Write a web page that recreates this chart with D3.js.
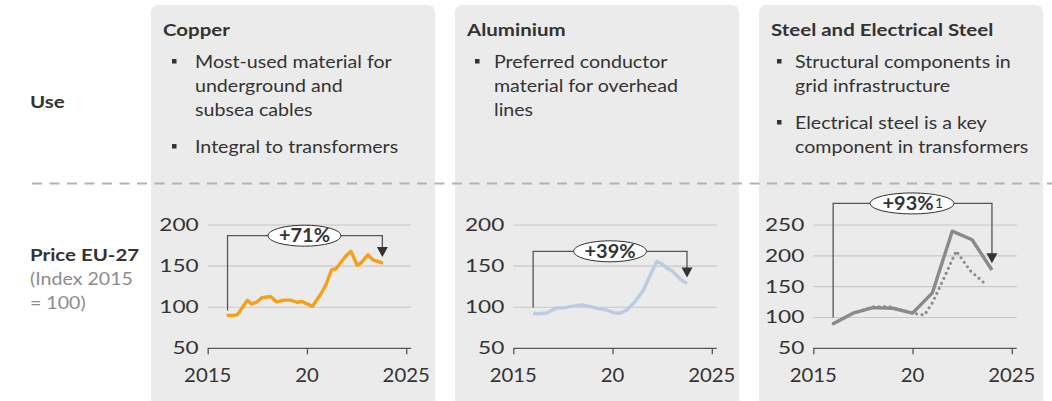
<!DOCTYPE html>
<html>
<head>
<meta charset="utf-8">
<script src="https://cdn.jsdelivr.net/npm/d3@7"></script>
<style>
  body { margin: 0; background: #fff; }
  svg { display: block; font-family: Lato, 'Open Sans', sans-serif; }
</style>
</head>
<body>
<script>
// ---- data ----
let materials = ['Copper', 'Aluminium', 'Steel and Electrical Steel']
let bullets = [
  [['Most-used material for', 'underground and', 'subsea cables'], ['Integral to transformers']],
  [['Preferred conductor', 'material for overhead', 'lines']],
  [['Structural components in', 'grid infrastructure'], ['Electrical steel is a key', 'component in transformers']]
]
let rowLabels = ['Use', 'Price EU-27']
let priceNote = ['(Index 2015', '= 100)']

let xTicks = [2015, 2020, 2025]
let xTickLabels = ['2015', '20', '2025']
let yTicksCopper = [50, 100, 150, 200]
let yTicksAlu = [50, 100, 150, 200]
let yTicksSteel = [50, 100, 150, 200, 250]

let copperYears = [2015.96, 2016.3, 2016.5, 2017.0, 2017.2, 2017.45, 2017.74, 2018.16, 2018.47,
  2018.84, 2019.18, 2019.48, 2019.77, 2020.0, 2020.28, 2020.7, 2020.95, 2021.24, 2021.46,
  2021.97, 2022.22, 2022.53, 2022.73, 2023.07, 2023.32, 2023.83]
let copperValues = [90, 90, 91, 108.5, 104, 106, 111.7, 113, 106.5,
  108.6, 108.6, 106, 107, 104, 101, 116, 127, 145.5, 146.8,
  162.5, 168, 151, 154, 163.8, 157.7, 153.7]

let aluYears = [2016.0, 2016.26, 2016.68, 2017.18, 2017.6, 2017.95, 2018.45, 2018.87, 2019.3,
  2019.7, 2020.05, 2020.38, 2020.72, 2021.14, 2021.56, 2021.9, 2022.23, 2022.48, 2022.74,
  2022.99, 2023.41, 2023.75]
let aluValues = [92.7, 92, 93, 99, 99.5, 101, 102.8, 100.7, 98.2,
  96.6, 93.4, 92.7, 96.6, 106.8, 121, 139, 155.6, 152.8, 147.5,
  144.6, 134, 129]

let steelYears = [2016, 2017, 2018, 2019, 2020, 2021, 2022, 2023, 2024]
let steelValues = [90, 107, 116, 115, 107, 140, 240, 226, 177]

let elSteelYears = [2016, 2017, 2018, 2018.8, 2020, 2020.6, 2021.0, 2021.6, 2022.2, 2022.9, 2023.75]
let elSteelValues = [90, 107, 117, 118, 107, 104, 124, 165, 208, 176, 152]

let changeLabels = ['+71%', '+39%', '+93%']
let changeNotes = ['', '', '1']
// bracket: [startYear, startValue, topValue, endYear, arrowValue]
let brackets = [
  [2016, 96, 187, 2023.8, 161],
  [2016, 99.5, 168, 2023.75, 136],
  [2016, 100, 285, 2024, 188]
]

// ---- layout ----
let W = 1052, H = 401
let panel = {x0: 151, step: 304, width: 284, top: 5, radius: 8}
let textLeft = [44, 39, 36]
let bulletLeft = [21, 20, 18]
let plotLeft = [56.7, 58.3, 54.3]
let plot = {width: 198.5, top: 225, bottom: 348.3, extra: 5}
let ink = '#333'
let type = {
  body: {size: 18, sx: 1.09},
  head: {size: 17.5, sx: 1.17},
  yTick: {size: 17, sx: 1.33},
  xTick: {size: 18.5, sx: 1.1},
  badge: {size: 18.5, sx: 1.08}
}

let svg = d3.select('body').append('svg')
  .attr('width', W).attr('height', H)

function addText (parent, x, y, str, opts = {}) {
  let style = type[opts.kind || 'body']
  let t = parent.append('text')
    .attr('transform', `translate(${x},${y}) scale(${opts.sx || style.sx},1)`)
    .attr('font-size', opts.size || style.size)
    .attr('font-weight', opts.weight || 400)
    .attr('fill', opts.fill || ink)
    .attr('text-anchor', opts.anchor || 'start')
    .text(str)
  return t
}

// panels
materials.forEach((m, i) => {
  let x = panel.x0 + i * panel.step
  svg.append('path')
    .attr('d', `M${x},${H + 10} V${panel.top + panel.radius} Q${x},${panel.top} ${x + panel.radius},${panel.top}` +
      ` H${x + panel.width - panel.radius} Q${x + panel.width},${panel.top} ${x + panel.width},${panel.top + panel.radius} V${H + 10} Z`)
    .attr('fill', '#ebebeb')
})

// left column labels
addText(svg, 30, 108, rowLabels[0], {kind: 'head', weight: 700})
addText(svg, 30, 261, rowLabels[1], {kind: 'head', weight: 700})
priceNote.forEach((s, i) => addText(svg, 30, 285 + i * 24, s, {kind: 'head', fill: '#8c8c8c', sx: 1.12}))

// separator
svg.append('line')
  .attr('x1', 32).attr('x2', W).attr('y1', 183.5).attr('y2', 183.5)
  .attr('stroke', '#b3b3b3').attr('stroke-width', 2)
  .attr('stroke-dasharray', '10 7.5')

// use texts
materials.forEach((m, i) => {
  let x = panel.x0 + i * panel.step
  let g = svg.append('g')
  addText(g, x + 12, 36, m, {kind: 'head', weight: 700})
  let y = 68
  bullets[i].forEach(par => {
    g.append('rect').attr('x', x + bulletLeft[i]).attr('y', y - 9).attr('width', 4.5).attr('height', 4.5).attr('fill', ink)
    par.forEach(line => {
      addText(g, x + textLeft[i], y, line)
      y += 24
    })
    y += 13
  })
})

// charts
let series = [
  [{years: copperYears, values: copperValues, color: '#f6a01a', dotted: false}],
  [{years: aluYears, values: aluValues, color: '#bccbe2', dotted: false}],
  [{years: steelYears, values: steelValues, color: '#8a8a8a', dotted: false},
    {years: elSteelYears, values: elSteelValues, color: '#8a8a8a', dotted: true}]
]
let yTicksAll = [yTicksCopper, yTicksAlu, yTicksSteel]

series.forEach((list, i) => {
  let px = panel.x0 + i * panel.step + plotLeft[i]
  let yTicks = yTicksAll[i]
  let x = d3.scaleLinear().domain([2015, 2025]).range([px, px + plot.width])
  let y = d3.scaleLinear().domain([yTicks[0], yTicks[yTicks.length - 1]]).range([plot.bottom, plot.top])
  let g = svg.append('g')

  // gridlines
  g.selectAll('line.grid').data(yTicks.slice(1)).enter().append('line')
    .attr('x1', x(2015)).attr('x2', x(2025) + plot.extra)
    .attr('y1', d => y(d)).attr('y2', d => y(d))
    .attr('stroke', '#c8c8c8').attr('stroke-width', 1.1)

  // y labels
  yTicks.forEach(v => addText(g, x(2015) - 9, y(v) + 6, v, {kind: 'yTick', anchor: 'end'}))

  // x axis
  let axis = d3.axisBottom(x).tickValues(xTicks).tickSize(6).tickFormat('')
  let ax = g.append('g').attr('transform', `translate(0,${plot.bottom})`).call(axis)
  ax.select('.domain').attr('d', `M${x(2015)},0H${x(2025) + plot.extra}`).attr('stroke', '#555').attr('stroke-width', 1.3)
  ax.selectAll('.tick line').attr('stroke', '#555').attr('stroke-width', 1.3)
  xTicks.forEach((t, k) => addText(g, x(t), 382, xTickLabels[k], {kind: 'xTick', anchor: 'middle'}))

  // lines
  let line = d3.line().x(d => x(d[0])).y(d => y(d[1]))
  list.forEach(s => {
    let pts = s.years.map((yr, k) => [yr, s.values[k]])
    let p = g.append('path').datum(pts)
      .attr('d', line)
      .attr('fill', 'none')
      .attr('stroke', s.color)
      .attr('stroke-width', 3.4)
      .attr('stroke-linejoin', 'round')
    if (s.dotted) {
      p.attr('stroke-dasharray', '0 5.5').attr('stroke-linecap', 'round').attr('stroke-width', 3.2)
    }
  })

  // bracket annotation
  let [y0, v0, vTop, y1, vArrow] = brackets[i]
  let tipY = y(vArrow)
  g.append('path')
    .attr('d', `M${x(y0)},${y(v0)} V${y(vTop)} H${x(y1)} V${tipY - 9}`)
    .attr('fill', 'none').attr('stroke', '#555').attr('stroke-width', 1.3)
  g.append('path')
    .attr('d', `M${x(y1) - 5.5},${tipY - 10} L${x(y1) + 5.5},${tipY - 10} L${x(y1)},${tipY} Z`)
    .attr('fill', ink)
  let note = changeNotes[i]
  let cx = x(2020) - (note ? 0.5 : 2.5)
  let rx = note ? 42 : 36.5
  g.append('ellipse')
    .attr('cx', cx).attr('cy', y(vTop)).attr('rx', rx).attr('ry', 10.5)
    .attr('fill', '#fff').attr('stroke', ink).attr('stroke-width', 1)
  addText(g, cx - (note ? 4 : 0), y(vTop) + 6.5, changeLabels[i], {kind: 'badge', weight: 700, anchor: 'middle'})
  if (note) {
    addText(g, cx + 23, y(vTop) + 5, note, {kind: 'badge', size: 14, sx: 1})
  }
})
</script>
</body>
</html>
